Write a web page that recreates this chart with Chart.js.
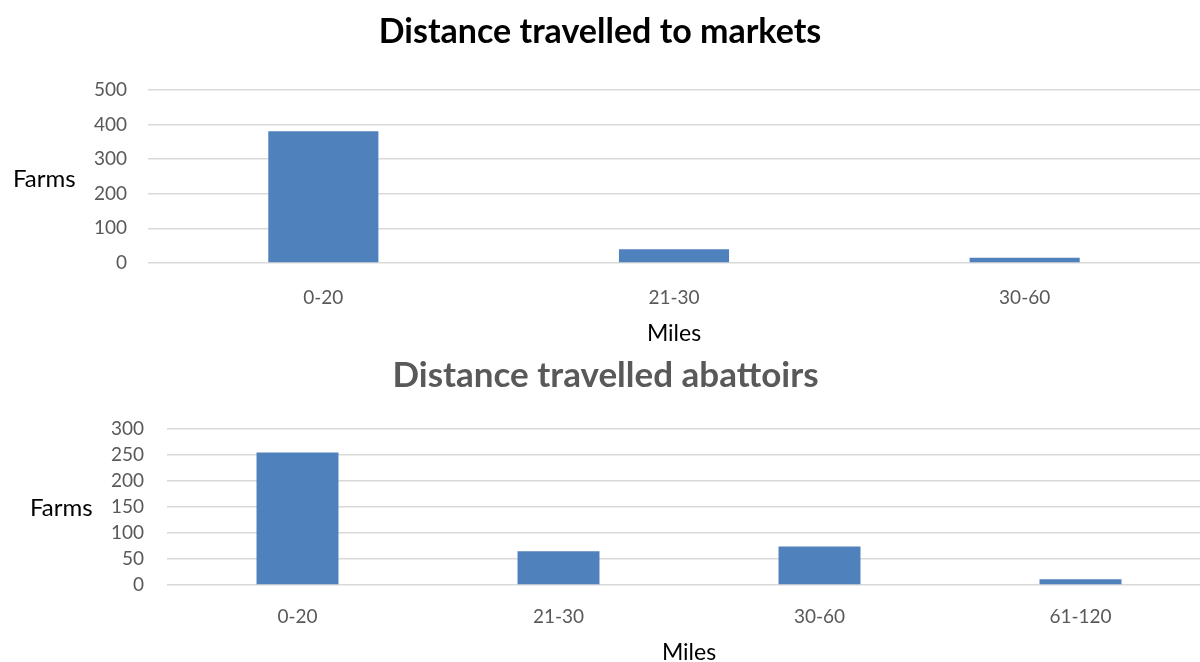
<!DOCTYPE html>
<html lang="en">
<head>
  <meta charset="UTF-8">
  <title>Distance travelled</title>
  <style>
    html, body { margin: 0; padding: 0; background: #fff; overflow: hidden; width: 1200px; height: 662px; }
    canvas { position: absolute; left: 0; }
    #markets { top: 0; }
    #abattoirs { top: 350px; }
  </style>
</head>
<body>
  <canvas id="markets" width="1200" height="350"></canvas>
  <canvas id="abattoirs" width="1222" height="320"></canvas>

  <script src="https://cdn.jsdelivr.net/npm/chart.js"></script>
  <script>
    // Données
    const marketLabels = ['0-20', '21-30', '30-60'];
    const marketFarms = [380, 40, 15];
    const marketTicks = { max: 500, step: 100 };

    const abattoirLabels = ['0-20', '21-30', '30-60', '61-120'];
    const abattoirFarms = [255, 65, 74, 11];
    const abattoirTicks = { max: 300, step: 50 };

    const FONT = 'Lato, "Open Sans", sans-serif';

    // "Farms" horizontal, à gauche de l'axe
    const farmsLabel = {
      id: 'farmsLabel',
      afterDraw(chart, args, opts) {
        const { ctx, chartArea } = chart;
        ctx.save();
        ctx.font = '24px ' + FONT;
        ctx.fillStyle = '#000';
        ctx.textAlign = 'left';
        ctx.textBaseline = 'middle';
        ctx.fillText('Farms', opts.x, (chartArea.top + chartArea.bottom) / 2 + opts.dy);
        ctx.restore();
      }
    };

    function makeChart(id, labels, values, ticks, cfg) {
      return new Chart(document.getElementById(id), {
        type: 'bar',
        data: {
          labels: labels,
          datasets: [{
            data: values,
            backgroundColor: '#4f81bd',
            borderWidth: 0,
            barPercentage: 0.314,
            categoryPercentage: 1
          }]
        },
        plugins: [farmsLabel],
        options: {
          responsive: false,
          animation: false,
          devicePixelRatio: 1,
          layout: { padding: { left: 0, top: 0, bottom: 0, right: cfg.padRight } },
          plugins: {
            legend: { display: false },
            tooltip: { enabled: false },
            title: {
              display: true,
              text: cfg.title,
              color: cfg.titleColor,
              font: { family: FONT, size: cfg.titleSize, weight: 'bold', lineHeight: 1.2 },
              padding: cfg.titlePadding
            },
            farmsLabel: { x: cfg.farmsX, dy: cfg.farmsDy }
          },
          scales: {
            x: {
              grid: { display: false, drawTicks: false },
              border: { display: false },
              ticks: { color: '#595959', font: { family: FONT, size: 19 }, padding: cfg.xTickPad, maxRotation: 0 },
              title: { display: true, text: 'Miles', color: '#000', font: { family: FONT, size: 23, lineHeight: 1.2 }, padding: { top: 0, bottom: cfg.milesPad } },
              afterFit: s => { s.height = cfg.xHeight; }
            },
            y: {
              min: 0,
              max: ticks.max,
              grid: { color: '#d9d9d9', lineWidth: 1.4, drawTicks: false },
              border: { display: false },
              ticks: { stepSize: ticks.step, color: '#595959', font: { family: FONT, size: 19 }, padding: cfg.yTickPad },
              afterFit: s => { s.width = cfg.yWidth; }
            }
          }
        }
      });
    }

    makeChart('markets', marketLabels, marketFarms, marketTicks, {
      title: 'Distance travelled to markets',
      titleColor: '#000',
      titleSize: 34,
      titlePadding: { top: 12, bottom: 37 },
      xHeight: 87, xTickPad: 23, milesPad: 3,
      yWidth: 148, yTickPad: 21, padRight: 0,
      farmsX: 13, farmsDy: 3
    });

    makeChart('abattoirs', abattoirLabels, abattoirFarms, abattoirTicks, {
      title: 'Distance travelled abattoirs',
      titleColor: '#595959',
      titleSize: 35,
      titlePadding: { top: 5, bottom: 32 },
      xHeight: 85, xTickPad: 20, milesPad: 4,
      yWidth: 167, yTickPad: 23, padRight: 11,
      farmsX: 30, farmsDy: 1
    });
  </script>
</body>
</html>
